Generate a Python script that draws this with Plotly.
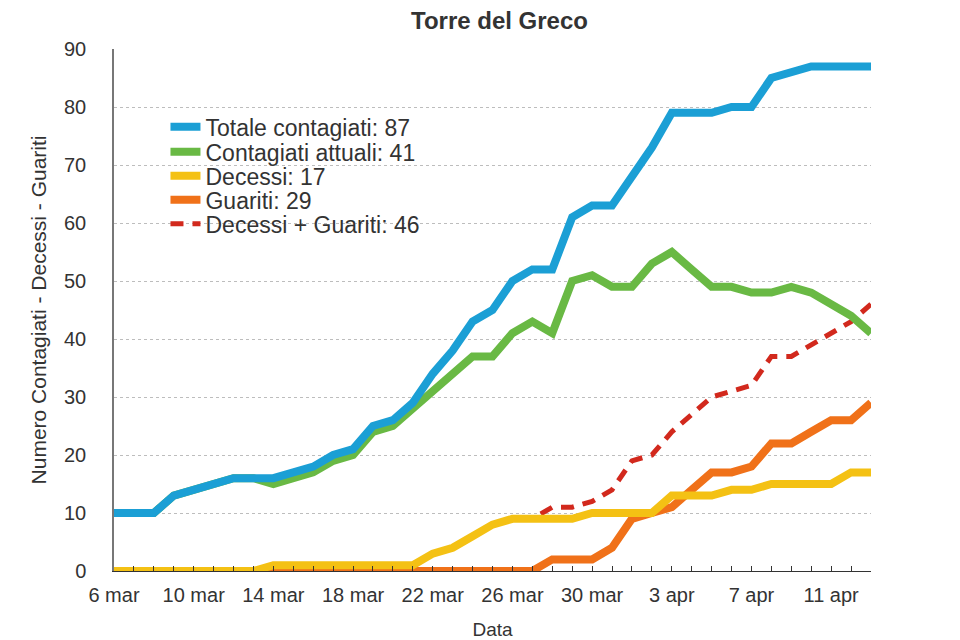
import plotly.graph_objects as go

dates = [
    "2020-03-06", "2020-03-07", "2020-03-08", "2020-03-09", "2020-03-10", "2020-03-11",
    "2020-03-12", "2020-03-13", "2020-03-14", "2020-03-15", "2020-03-16", "2020-03-17",
    "2020-03-18", "2020-03-19", "2020-03-20", "2020-03-21", "2020-03-22", "2020-03-23",
    "2020-03-24", "2020-03-25", "2020-03-26", "2020-03-27", "2020-03-28", "2020-03-29",
    "2020-03-30", "2020-03-31", "2020-04-01", "2020-04-02", "2020-04-03", "2020-04-04",
    "2020-04-05", "2020-04-06", "2020-04-07", "2020-04-08", "2020-04-09", "2020-04-10",
    "2020-04-11", "2020-04-12", "2020-04-13",
]

totale = [10, 10, 10, 13, 14, 15, 16, 16, 16, 17, 18, 20, 21, 25, 26, 29, 34, 38, 43, 45,
          50, 52, 52, 61, 63, 63, 68, 73, 79, 79, 79, 80, 80, 85, 86, 87, 87, 87, 87]
attuali = [10, 10, 10, 13, 14, 15, 16, 16, 15, 16, 17, 19, 20, 24, 25, 28, 31, 34, 37, 37,
           41, 43, 41, 50, 51, 49, 49, 53, 55, 52, 49, 49, 48, 48, 49, 48, 46, 44, 41]
decessi = [0, 0, 0, 0, 0, 0, 0, 0, 1, 1, 1, 1, 1, 1, 1, 1, 3, 4, 6, 8,
           9, 9, 9, 9, 10, 10, 10, 10, 13, 13, 13, 14, 14, 15, 15, 15, 15, 17, 17]
guariti = [0, 0, 0, 0, 0, 0, 0, 0, 0, 0, 0, 0, 0, 0, 0, 0, 0, 0, 0, 0,
           0, 0, 2, 2, 2, 4, 9, 10, 11, 14, 17, 17, 18, 22, 22, 24, 26, 26, 29]
dec_guar = [0, 0, 0, 0, 0, 0, 0, 0, 1, 1, 1, 1, 1, 1, 1, 1, 3, 4, 6, 8,
            9, 9, 11, 11, 12, 14, 19, 20, 24, 27, 30, 31, 32, 37, 37, 39, 41, 43, 46]

tick_dates = ["2020-03-06", "2020-03-10", "2020-03-14", "2020-03-18", "2020-03-22",
              "2020-03-26", "2020-03-30", "2020-04-03", "2020-04-07", "2020-04-11"]
tick_labels = ["6 mar", "10 mar", "14 mar", "18 mar", "22 mar",
               "26 mar", "30 mar", "3 apr", "7 apr", "11 apr"]
y_ticks = [0, 10, 20, 30, 40, 50, 60, 70, 80, 90]

names = ["Totale contagiati: 87", "Contagiati attuali: 41", "Decessi: 17",
         "Guariti: 29", "Decessi + Guariti: 46"]
colors = ["#1b9fd5", "#69b944", "#f4c114", "#f07119", "#d2291d"]

# each series gets its own legend box so that rows can sit as tightly as in the original
legend_rows = [0.851, 0.803, 0.757, 0.711, 0.665]
legend_ids = ["legend", "legend2", "legend3", "legend4", "legend5"]

fig = go.Figure()
series = [totale, attuali, decessi, guariti, dec_guar]
# draw bottom-to-top: dashed, guariti, decessi, attuali, totale
for idx in [4, 3, 2, 1, 0]:
    if idx == 4:
        line = dict(color=colors[idx], width=5, dash="13px,9px")
    else:
        line = dict(color=colors[idx], width=8)
    fig.add_trace(go.Scatter(x=dates, y=series[idx], name=names[idx], mode="lines",
                             line=line, legend=legend_ids[idx]))

font_family = "Liberation Sans, Arial, sans-serif"
legend_common = dict(x=0.068, xanchor="left", yanchor="middle",
                     bgcolor="rgba(0,0,0,0)", font=dict(size=23, color="#333333"),
                     itemwidth=30)
layout_legends = {}
for lid, ly in zip(legend_ids, legend_rows):
    layout_legends[lid] = dict(y=ly, **legend_common)

fig.update_layout(
    width=960, height=640,
    margin=dict(l=106, r=97, t=41, b=77),
    paper_bgcolor="white", plot_bgcolor="white",
    font=dict(family=font_family, color="#333333", size=20),
    title=dict(text="<b>Torre del Greco</b>", x=0.512, xanchor="center", y=0.98, yanchor="middle",
               font=dict(size=24, color="#333333")),
    showlegend=True,
    **layout_legends,
)
fig.update_xaxes(
    type="date", automargin=False,
    range=["2020-03-06", "2020-04-13"],
    tickvals=tick_dates, ticktext=tick_labels,
    ticks="inside", ticklen=5, tickcolor="#333333", ticklabelstandoff=6,
    showline=True, linecolor="#333333", linewidth=1.2,
    showgrid=False, zeroline=False,
    minor=dict(dtick=86400000, ticks="inside", ticklen=5, tickcolor="#333333", showgrid=False),
    tickfont=dict(size=20),
    title=dict(text="Data", font=dict(size=19), standoff=17),
)
fig.update_yaxes(
    automargin=False,
    range=[0, 90], tickvals=y_ticks,
    showline=True, linecolor="#777777", linewidth=1.5,
    showgrid=True, gridcolor="#bdbdbd", griddash="dot", gridwidth=1,
    zeroline=False, ticks="", ticklabelstandoff=22,
    tickfont=dict(size=20),
    title=dict(text="Numero Contagiati - Decessi - Guariti", font=dict(size=21), standoff=12),
)

fig.write_html("out.html")
